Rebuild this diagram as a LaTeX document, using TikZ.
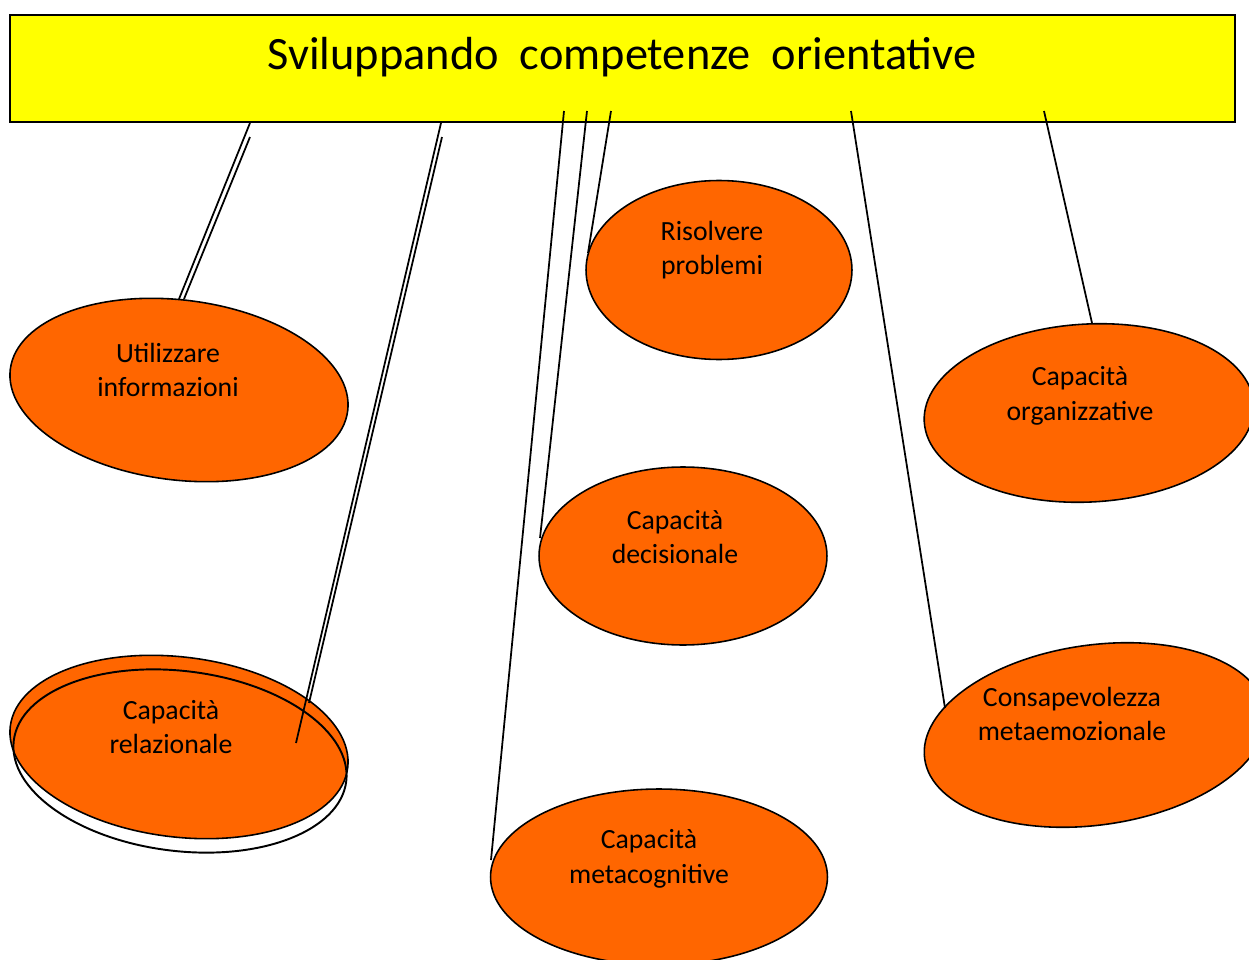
\documentclass[tikz,border=0pt]{standalone}
\usepackage{fontspec}
\setmainfont{Carlito}
\usetikzlibrary{shapes.geometric}
\definecolor{boxyellow}{RGB}{255,255,0}
\definecolor{bubble}{RGB}{255,102,0}
\tikzset{
  bubble/.style={ellipse,draw=black,line width=0.9pt,fill=bubble,inner sep=0pt},
  rim/.style={ellipse,draw=black,line width=1.1pt,inner sep=0pt},
  txt/.style={align=center,font=\fontsize{15.8}{19.8}\selectfont},
  link/.style={line width=1pt}
}
\begin{document}
\begin{tikzpicture}[x=0.02cm,y=-0.02cm]
\useasboundingbox (0,0) rectangle (1249,960);
% Draw title box
\node[draw=black,line width=1pt,fill=boxyellow,minimum width=24.5cm,minimum height=2.14cm,inner sep=0pt] (title) at (622.5,68.5) {};
\node[font=\fontsize{26.4}{30}\selectfont] (title-txt) at (622,57) {Sviluppando\ \ competenze\ \ orientative};
% Draw ellipses
\node[bubble,minimum width=6.8cm,minimum height=3.6cm,rotate=-7] (util) at (179,390) {};
\node[bubble,minimum width=5.32cm,minimum height=3.58cm] (risolvi) at (719,270) {};
\node[bubble,minimum width=6.6cm,minimum height=3.56cm,rotate=3] (organ) at (1089,413) {};
\node[bubble,minimum width=5.76cm,minimum height=3.56cm] (decis) at (683,556) {};
\node[bubble,minimum width=6.8cm,minimum height=3.6cm,rotate=-7] (relaz) at (179,747) {};
\node[rim,minimum width=6.7cm,minimum height=3.6cm,rotate=-7] (relaz-rim) at (180,761) {};
\node[bubble,minimum width=6.88cm,minimum height=3.6cm,rotate=8] (metaem) at (1095,735) {};
\node[bubble,minimum width=6.74cm,minimum height=3.52cm] (metacog) at (659,877) {};
% End points of the lines
\coordinate (u1) at (250,123);
\coordinate (u2) at (250,137);
\coordinate (u1-end) at (179,299);
\coordinate (u2-end) at (184,299);
\coordinate (r1) at (441,123);
\coordinate (r2) at (442,137);
\coordinate (r1-end) at (296,743);
\coordinate (r2-end) at (309,703);
\coordinate (mc) at (564,111);
\coordinate (mc-end) at (491,860);
\coordinate (dc) at (587,111);
\coordinate (dc-end) at (540,538);
\coordinate (rp) at (611,111);
\coordinate (rp-end) at (588,253);
\coordinate (me) at (851,111);
\coordinate (me-end) at (945,708);
\coordinate (og) at (1044,111);
\coordinate (og-end) at (1092,323);
% Draw lines
\draw[link] (u1) -- (u1-end);
\draw[link] (u2) -- (u2-end);
\draw[link] (r1) -- (r1-end);
\draw[link] (r2) -- (r2-end);
\draw[link] (mc) -- (mc-end);
\draw[link] (dc) -- (dc-end);
\draw[link] (rp) -- (rp-end);
\draw[link] (me) -- (me-end);
\draw[link] (og) -- (og-end);
% Texts
\node[txt] (util-txt) at (168,370) {Utilizzare\\informazioni};
\node[txt] (risolvi-txt) at (712,250) {Risolvere\\problemi};
\node[txt] (organ-txt) at (1080,396) {Capacità\\organizzative};
\node[txt] (decis-txt) at (675,537) {Capacità\\decisionale};
\node[txt] (relaz-txt) at (171,727) {Capacità\\relazionale};
\node[txt] (metaem-txt) at (1072,714) {Consapevolezza\\metaemozionale};
\node[txt] (metacog-txt) at (649,859) {Capacità\\metacognitive};
\end{tikzpicture}
\end{document}
